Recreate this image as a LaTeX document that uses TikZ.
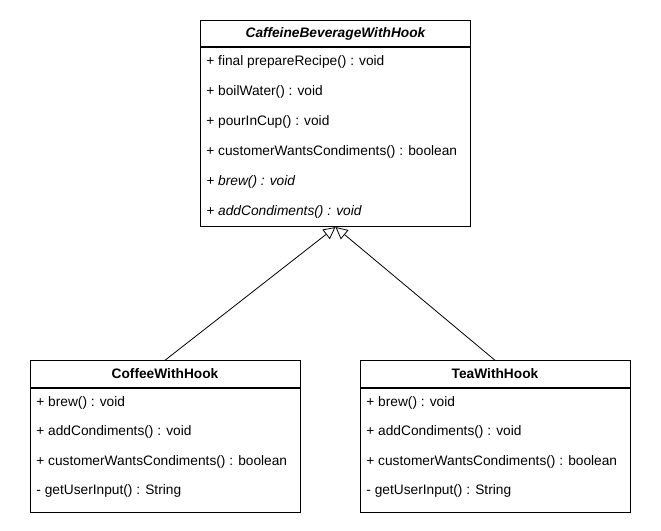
\documentclass[tikz,border=0pt]{standalone}
\usepackage{fontspec}
\setmainfont{Liberation Sans}
\usetikzlibrary{arrows.meta, positioning}

\begin{document}
\begin{tikzpicture}[
    x=0.75pt, y=-0.75pt,
    line width=0.6pt,
    font=\fontsize{10.3}{12}\selectfont,
    classname/.style={rectangle, draw, fill=white, minimum width=202.5pt, minimum height=20pt, inner sep=0pt, font=\fontsize{10.3}{12}\selectfont\bfseries},
    classbody/.style={rectangle, draw, fill=white, minimum width=202.5pt, inner sep=0pt},
    method/.style={anchor=west, inner sep=0pt},
    extends/.style={-{Triangle[open, length=9pt, width=9pt]}}
]
\useasboundingbox (0,0) rectangle (661,531);

% abstract class
\node [classname] (cbw) at (335.5,33.5) {\itshape CaffeineBeverageWithHook};
\node [classbody, minimum height=134.25pt, below=0pt of cbw] (cbwbody) {};
\foreach \txt [count=\i] in {+ final prepareRecipe() : void, + boilWater() : void, + pourInCup() : void,
    + customerWantsCondiments() : boolean, \textit{+ brew() : void}, \textit{+ addCondiments() : void}}
    \node [method] (cbw-\i) at (206,31.5+30*\i) {\txt};

% subclasses
\node [classname] (coffee) at (165,374) {CoffeeWithHook};
\node [classbody, minimum height=93pt, below=0pt of coffee] (coffeebody) {};
\foreach \txt [count=\i] in {+ brew() : void, + addCondiments() : void,
    + customerWantsCondiments() : boolean, - getUserInput() : String}
    \node [method] (coffee-\i) at (36,373+29.5*\i) {\txt};

\node [classname] (tea) at (495,374) {TeaWithHook};
\node [classbody, minimum height=93pt, below=0pt of tea] (teabody) {};
\foreach \txt [count=\i] in {+ brew() : void, + addCondiments() : void,
    + customerWantsCondiments() : boolean, - getUserInput() : String}
    \node [method] (tea-\i) at (366,373+29.5*\i) {\txt};

% generalisation
\draw [extends] (coffee.north) -- (cbwbody.south);
\draw [extends] (tea.north) -- (cbwbody.south);
\end{tikzpicture}
\end{document}
